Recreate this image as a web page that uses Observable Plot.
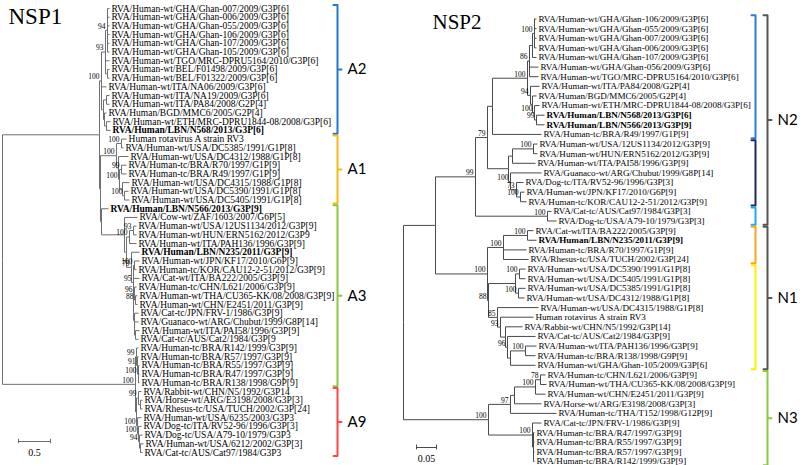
<!DOCTYPE html>
<html><head><meta charset="utf-8">
<script src="https://cdn.jsdelivr.net/npm/d3@7"></script>
<script src="https://cdn.jsdelivr.net/npm/@observablehq/plot@0.6"></script>
<style>
body{margin:0;background:#fff;}
#wrap{position:relative;width:800px;height:465px;overflow:hidden;background:#fff;}
#left,#right{position:absolute;top:0;width:400px;height:465px;}
#left{left:0}#right{left:400px}
</style></head><body><div id="wrap"><div id="left"></div><div id="right"></div></div>
<script>
// ---------------- NSP1 data ----------------
const nsp1Labels = [
"RVA/Human-wt/GHA/Ghan-007/2009/G3P[6]","RVA/Human-wt/GHA/Ghan-006/2009/G3P[6]","RVA/Human-wt/GHA/Ghan-055/2009/G3P[6]",
"RVA/Human-wt/GHA/Ghan-106/2009/G3P[6]","RVA/Human-wt/GHA/Ghan-107/2009/G3P[6]","RVA/Human-wt/GHA/Ghan-105/2009/G3P[6]",
"RVA/Human-wt/TGO/MRC-DPRU5164/2010/G3P[6]","RVA/Human-wt/BEL/F01498/2009/G3P[6]","RVA/Human-wt/BEL/F01322/2009/G3P[6]",
"RVA/Human-wt/ITA/NA06/2009/G3P[6]","RVA/Human-wt/ITA/NA19/2009/G3P[6]","RVA/Human-wt/ITA/PA84/2008/G2P[4]",
"RVA/Human/BGD/MMC6/2005/G2P[4]","RVA/Human-wt/ETH/MRC-DPRU1844-08/2008/G3P[6]","RVA/Human/LBN/N568/2013/G3P[6]",
"Human rotavirus A strain RV3","RVA/Human-wt/USA/DC5385/1991/G1P[8]","RVA/Human-wt/USA/DC4312/1988/G1P[8]",
"RVA/Human-tc/BRA/R70/1997/G1P[9]","RVA/Human-tc/BRA/R49/1997/G1P[9]","RVA/Human-wt/USA/DC4315/1988/G1P[8]",
"RVA/Human-wt/USA/DC5390/1991/G1P[8]","RVA/Human-wt/USA/DC5405/1991/G1P[8]","RVA/Human/LBN/N566/2013/G3P[9]",
"RVA/Cow-wt/ZAF/1603/2007/G6P[5]","RVA/Human-wt/USA/12US1134/2012/G3P[9]","RVA/Human-wt/HUN/ERN5162/2012/G3P9",
"RVA/Human-wt/ITA/PAH136/1996/G3P[9]","RVA/Human/LBN/N235/2011/G3P[9]","RVA/Human-wt/JPN/KF17/2010/G6P[9]",
"RVA/Human-tc/KOR/CAU12-2-51/2012/G3P[9]","RVA/Cat-wt/ITA/BA222/2005/G3P[9]","RVA/Human-tc/CHN/L621/2006/G3P[9]",
"RVA/Human-wt/THA/CU365-KK/08/2008/G3P[9]","RVA/Human-wt/CHN/E2451/2011/G3P[9]","RVA/Cat-tc/JPN/FRV-1/1986/G3P[9]",
"RVA/Guanaco-wt/ARG/Chubut/1999/G8P[14]","RVA/Human-wt/ITA/PAI58/1996/G3P[9]","RVA/Cat-tc/AUS/Cat2/1984/G3P[9",
"RVA/Human-tc/BRA/R142/1999/G3P[9]","RVA/Human-tc/BRA/R57/1997/G3P[9]","RVA/Human-tc/BRA/R55/1997/G3P[9]",
"RVA/Human-tc/BRA/R47/1997/G3P[9]","RVA/Human-tc/BRA/R138/1998/G9P[9]","RVA/Rabbit-wt/CHN/N5/1992/G3P14",
"RVA/Horse-wt/ARG/E3198/2008/G3P[3]","RVA/Rhesus-tc/USA/TUCH/2002/G3P[24]","RVA/Human-wt/USA/6235/2003/G3P3",
"RVA/Dog-tc/ITA/RV52-96/1996/G3P[3]","RVA/Dog-tc/USA/A79-10/1979/G3P3","RVA/Human-wt/USA/6212/2002/G3P[3]",
"RVA/Cat-tc/AUS/Cat97/1984/G3P3"];
const nsp1TipParent = ["g0","g0","g0","g0","g0","g0","g1","bel","bel","a2","g3","g3","g4","g5","g5",
"a1a","a1a","a1b","a1d","a1d","a1e","a1f","a1f","m2","a3","c2","c2","c1","a3b","a3d","a3d","a3e","a3f","a3g","a3g",
"a3h","a3i","a3j","a3j","r0","r1","r2","r2","r2","b1","b1a","b1a","b2","b3","b4","b5","b5"];
const nsp1TipDepth = [1.672,1.672,1.672,1.672,1.672,1.672,1.672,1.672,1.672,1.625,1.672,1.672,1.625,1.688,1.688,
1.938,1.891,1.969,1.938,1.938,1.984,1.969,1.984,1.656,2.109,2.094,2.094,2.094,2.141,2.141,2.094,2.141,2.094,2.109,2.109,
2.125,2.125,2.141,2.125,2.125,2.125,2.141,2.141,2.141,2.172,2.188,2.188,2.172,2.172,2.188,2.203,2.188];
// [id, parent, distance from root, bootstrap]
const nsp1Nodes = [
["root",null,0,null],["top","root",1.516,null],["a2","top",1.547,100],["g1","a2",1.609,93],["g0","g1",1.641,94],
["bel","g1",1.641,null],["g2","a2",1.578,null],["g3","g2",1.625,null],["g4","g2",1.594,null],["g5","g4",1.625,null],
["m1","top",1.531,null],["a1","m1",1.781,100],["a1a","a1",1.859,100],["a1b","a1",1.813,null],["a1c","a1b",1.828,100],
["a1d","a1c",1.859,99],["a1e","a1c",1.875,null],["a1f","a1e",1.906,100],["m2","m1",1.547,null],["a3","m2",1.906,null],
["a3a","a3",1.938,null],["c1","a3a",1.984,100],["c2","c1",2.047,93],["a3b","a3a",2.016,79],["a3c","a3b",2.047,95],
["a3d","a3c",2.063,100],["a3e","a3c",2.047,null],["a3f","a3e",2.063,96],["a3g","a3f",2.078,88],["a3h","a3e",2.063,null],
["a3i","a3h",2.063,null],["a3j","a3i",2.078,null],
["X","root",2.078,100],["r0","X",2.094,99],["r1","r0",2.109,91],["r2","r1",2.125,100],
["a9","X",2.094,null],["b1","a9",2.125,99],["b1a","b1",2.156,null],["b2","a9",2.109,100],
["b3","b2",2.125,100],["b4","b3",2.141,94],["b5","b4",2.156,null]];
const nsp1Bold = [15,24,29];
const nsp1Underlined = [25,32,36,37,39,45,46,47,49,50,52];
const nsp1Clades = [["A2",1,15],["A1",16,23],["A3",24,44],["A9",45,52]];
const nsp1CladeColors = ["#1f78d2","#f9b914","#8dc73f","#ff4545"];
const nsp1Scale = 0.5;

// ---------------- NSP2 data ----------------
const nsp2Labels = [
"RVA/Human-wt/GHA/Ghan-106/2009/G3P[6]","RVA/Human-wt/GHA/Ghan-055/2009/G3P[6]","RVA/Human-wt/GHA/Ghan-007/2009/G3P[6]",
"RVA/Human-wt/GHA/Ghan-006/2009/G3P[6]","RVA/Human-wt/GHA/Ghan-107/2009/G3P[6]","RVA/Human-wt/GHA/Ghan-056/2009/G3P[6]",
"RVA/Human-wt/TGO/MRC-DPRU5164/2010/G3P[6]","RVA/Human-wt/ITA/PA84/2008/G2P[4]","RVA/Human/BGD/MMC6/2005/G2P[4]",
"RVA/Human-wt/ETH/MRC-DPRU1844-08/2008/G3P[6]","RVA/Human/LBN/N568/2013/G3P[6]","RVA/Human/LBN/N566/2013/G3P[9]",
"RVA/Human-tc/BRA/R49/1997/G1P[9]","RVA/Human-wt/USA/12US1134/2012/G3P[9]","RVA/Human-wt/HUN/ERN5162/2012/G3P[9]",
"RVA/Human-wt/ITA/PAI58/1996/G3P[9]","RVA/Guanaco-wt/ARG/Chubut/1999/G8P[14]","RVA/Dog-tc/ITA/RV52-96/1996/G3P[3]",
"RVA/Human-wt/JPN/KF17/2010/G6P[9]","RVA/Human-tc/KOR/CAU12-2-51/2012/G3P[9]","RVA/Cat-tc/AUS/Cat97/1984/G3P[3]",
"RVA/Dog-tc/USA/A79-10/1979/G3P[3]","RVA/Cat-wt/ITA/BA222/2005/G3P[9]","RVA/Human/LBN/N235/2011/G3P[9]",
"RVA/Human-tc/BRA/R70/1997/G1P[9]","RVA/Rhesus-tc/USA/TUCH/2002/G3P[24]","RVA/Human-wt/USA/DC5390/1991/G1P[8]",
"RVA/Human-wt/USA/DC5405/1991/G1P[8]","RVA/Human-wt/USA/DC5385/1991/G1P[8]","RVA/Human-wt/USA/DC4312/1988/G1P[8]",
"RVA/Human-wt/USA/DC4315/1988/G1P[8]","Human rotavirus A strain RV3","RVA/Rabbit-wt/CHN/N5/1992/G3P[14]",
"RVA/Cat-tc/AUS/Cat2/1984/G3P[9]","RVA/Human-wt/ITA/PAH136/1996/G3P[9]","RVA/Human-tc/BRA/R138/1998/G9P[9]",
"RVA/Human-wt/GHA/Ghan-105/2009/G3P[6]","RVA/Human-tc/CHN/L621/2006/G3P[9]","RVA/Human-wt/THA/CU365-KK/08/2008/G3P[9]",
"RVA/Human-wt/CHN/E2451/2011/G3P[9]","RVA/Horse-wt/ARG/E3198/2008/G3P[3]","RVA/Human-tc/THA/T152/1998/G12P[9]",
"RVA/Cat-tc/JPN/FRV-1/1986/G3P[9]","RVA/Human-tc/BRA/R47/1997/G3P[9]","RVA/Human-tc/BRA/R55/1997/G3P[9]",
"RVA/Human-tc/BRA/R57/1997/G3P[9]","RVA/Human-tc/BRA/R142/1999/G3P[9]"];
const nsp2TipParent = ["H","H","H","H","H2","G1","G1","G2","G3","G4","G5","G5","P","Q1a","Q1a","Q1","Q2","Q3","Q4","Q4",
"Cy","Cy","O1","O1","O","O","Y1a","Y1a","Y1b","Y1b","Y2","Y3","Y4","Y5","Y7","Y7","Y6","N3d","N3d","N3c","N3b","N3a",
"BRA","BRA1","BRA1","BRA1","BRA1"];
const nsp2TipDepth = [0.3325,0.3325,0.3325,0.3325,0.3325,0.3375,0.3375,0.340,0.3325,0.340,0.3525,0.3525,0.345,0.335,0.335,
0.330,0.345,0.300,0.3025,0.3075,0.370,0.3825,0.325,0.3325,0.3075,0.3125,0.305,0.305,0.305,0.3025,0.3375,0.325,0.2975,
0.330,0.3325,0.330,0.330,0.355,0.3575,0.355,0.345,0.3825,0.345,0.3275,0.3275,0.3275,0.3275];
const nsp2Nodes = [
["root",null,0,null],["U","root",0.080,null],["A","U",0.180,99],["A1","A",0.210,79],["P","A1",0.2225,null],
["G","P",0.310,100],["G1","G",0.315,86],["H2","G1",0.3225,null],["H","H2",0.3275,100],["G2","G",0.3175,94],
["G3","G2",0.3225,null],["G4","G3",0.3275,100],["G5","G4",0.3325,99],["Q","A1",0.2625,null],["Q1","Q",0.2725,null],
["Q1a","Q1",0.325,100],["Q2","Q",0.2675,100],["Q3","Q2",0.2825,73],["Q4","Q3",0.2925,100],["Cy","A",0.360,100],
["B","U",0.210,100],["O","B",0.250,100],["O1","O",0.310,100],["Y","B",0.2125,88],["Y1","Y",0.280,null],
["Y1a","Y1",0.290,100],["Y1b","Y1",0.2875,100],["Y2","Y",0.235,85],["Y3","Y2",0.2425,93],["Y4","Y3",0.255,null],
["Y5","Y4",0.260,96],["Y6","Y5",0.2675,null],["Y7","Y6",0.305,100],["N3","root",0.2125,100],["N3a","N3",0.2675,97],
["N3b","N3a",0.2775,null],["N3c","N3b",0.330,100],["N3d","N3c",0.3425,78],["BRA","N3",0.3225,100],["BRA1","BRA",0.325,null]];
const nsp2Bold = [11,12,24];
const nsp2Underlined = [17,18,21,22,23,26,33,34,41,43];
const nsp2SubClades = [[1,13],[14,20],[21,22],[23,26],[27,37]];
const nsp2SubColors = ["#2a7fd4","#1c2b5e","#22aae8","#f6a623","#fff200"];
const nsp2Clades = [["N2",1,22],["N1",23,37],["N3",38,47]];
const nsp2CladeColors = ["#555555","#555555","#8dc73f"];
const nsp2Scale = 0.05;

// ---------------- helpers ----------------
const SERIF = "'Liberation Serif','Times New Roman',serif";
const SANS = "Lato,'Open Sans',sans-serif";

function layout(labels, tipParent, tipDepth, nodes) {
  const all = new Map();
  for (const [id, parent, depth, support] of nodes) all.set(id, {id, parent, depth, support, row: null});
  labels.forEach((label, i) => all.set("tip" + i, {id: "tip" + i, parent: tipParent[i], depth: tipDepth[i], row: i + 1, label}));
  const kids = new Map();
  for (const n of all.values()) if (n.parent != null) {
    if (!kids.has(n.parent)) kids.set(n.parent, []);
    kids.get(n.parent).push(n);
  }
  const rowOf = n => {
    if (n.row != null) return n.row;
    const rs = kids.get(n.id).map(rowOf);
    return (n.row = (Math.min(...rs) + Math.max(...rs)) / 2);
  };
  const root = [...all.values()].find(n => n.parent == null);
  rowOf(root);
  const edges = [...all.values()].filter(n => n.parent != null).map(n => {
    const p = all.get(n.parent); return {x1: p.depth, y1: p.row, x2: n.depth, y2: n.row};
  });
  const inner = nodes.map(([id]) => all.get(id)).filter(n => n.support != null);
  const tips = labels.map((label, i) => all.get("tip" + i));
  return {edges, inner, tips};
}

function bracketPts(name, r1, r2, color, bx, hook, mid) {
  const pts = [];
  const ym = (r1 + r2) / 2;
  pts.push({name, color, x: bx - hook, y: r1}, {name, color, x: bx, y: r1});
  if (mid) pts.push({name, color, x: bx, y: ym}, {name, color, x: bx + hook, y: ym}, {name, color, x: bx, y: ym});
  pts.push({name, color, x: bx, y: r2}, {name, color, x: bx - hook, y: r2});
  return pts;
}

function drawTree(el, o) {
  const {edges, inner, tips} = layout(o.labels, o.tipParent, o.tipDepth, o.nodes);
  const px2x = px => o.xd[0] + (px - o.xr[0]) * (o.xd[1] - o.xd[0]) / (o.xr[1] - o.xr[0]);
  const px2y = py => o.yd[0] + (py - o.yr[0]) * (o.yd[1] - o.yd[0]) / (o.yr[1] - o.yr[0]);
  const hookX = px2x(o.xr[0] + 4) - px2x(o.xr[0]);
  const isBold = t => o.bold.includes(t.row), isUnd = t => o.underlined.includes(t.row);
  const normal = tips.filter(t => !isBold(t) && !isUnd(t));
  const bold = tips.filter(isBold), und = tips.filter(isUnd);
  const tipText = {x: "depth", y: "row", text: "label", textAnchor: "start", dx: 2, fontFamily: SERIF, fontSize: o.fs, fill: "#000"};
  const br = [];
  (o.sub || []).forEach(([a, b], i) => br.push(...bracketPts("s" + i, a - 0.4, b + 0.4, o.subColors[i], px2x(o.subPx), hookX, false)));
  o.clades.forEach(([n, a, b], i) => br.push(...bracketPts(n, a - 0.4, b + 0.4, o.cladeColors[i], px2x(o.cladePx), hookX, true)));
  const cladeLab = o.clades.map(([n, a, b]) => ({n, x: px2x(o.cladePx + 10), y: (a + b) / 2}));
  const bar = [{x1: px2x(o.bar[0]), x2: px2x(o.bar[0]) + o.scaleLen, y: px2y(o.bar[1]), t: String(o.scaleLen)}];
  const chart = Plot.plot({
    width: 400, height: 465, margin: 0,
    style: {background: "transparent", overflow: "visible"},
    x: {domain: o.xd, range: o.xr, axis: null},
    y: {domain: o.yd, range: o.yr, axis: null},
    marks: [
      Plot.link(edges, {x1: "x1", y1: "y1", x2: "x2", y2: "y2", curve: "step-before", stroke: o.lineColor, strokeWidth: 1}),
      Plot.text(normal, tipText),
      Plot.text(bold, {...tipText, fontWeight: "bold"}),
      Plot.text(und, {...tipText, ariaLabel: "underlined-tips"}),
      Plot.text(inner, {x: "depth", y: "row", text: d => String(d.support), textAnchor: "end", dx: -2, dy: -4, fontFamily: SERIF, fontSize: o.sfs, fill: "#000"}),
      Plot.line(br, {x: "x", y: "y", z: "name", stroke: "color", strokeWidth: o.bw, curve: "linear"}),
      Plot.text(cladeLab, {x: "x", y: "y", text: "n", textAnchor: "start", fontFamily: SANS, fontSize: 15, fill: "#000"}),
      Plot.link(bar, {x1: "x1", x2: "x2", y1: "y", y2: "y", stroke: o.lineColor, strokeWidth: 1}),
      Plot.ruleX(bar, {x: "x1", y1: d => d.y - 0.25, y2: d => d.y + 0.25, stroke: o.lineColor}),
      Plot.ruleX(bar, {x: "x2", y1: d => d.y - 0.25, y2: d => d.y + 0.25, stroke: o.lineColor}),
      Plot.text(bar, {x: d => (d.x1 + d.x2) / 2, y: "y", text: "t", dy: 11, fontFamily: SERIF, fontSize: 10, fill: "#000"}),
      Plot.text([o.title], {frameAnchor: "top-left", dx: o.titlePos[0], dy: o.titlePos[1], lineAnchor: "top", textAnchor: "start", fontFamily: SERIF, fontSize: o.titleSize, fill: "#000"})
    ]
  });
  chart.querySelectorAll('g[aria-label="underlined-tips"] text').forEach(t => t.style.textDecoration = "underline");
  el.appendChild(chart);
}

drawTree(document.getElementById("left"), {
  labels: nsp1Labels, tipParent: nsp1TipParent, tipDepth: nsp1TipDepth, nodes: nsp1Nodes,
  bold: nsp1Bold, underlined: nsp1Underlined, clades: nsp1Clades, cladeColors: nsp1CladeColors,
  xd: [0, 1], xr: [2, 66], yd: [1, 52], yr: [8, 452], fs: 9.5, sfs: 7.5, lineColor: "#6e6e6e",
  cladePx: 337, bw: 2, bar: [18, 441], scaleLen: nsp1Scale, title: "NSP1", titlePos: [8, 7], titleSize: 23
});
drawTree(document.getElementById("right"), {
  labels: nsp2Labels, tipParent: nsp2TipParent, tipDepth: nsp2TipDepth, nodes: nsp2Nodes,
  bold: nsp2Bold, underlined: nsp2Underlined, clades: nsp2Clades, cladeColors: nsp2CladeColors,
  sub: nsp2SubClades, subColors: nsp2SubColors, subPx: 355,
  xd: [0, 0.05], xr: [3, 23], yd: [1, 47], yr: [18.5, 461], fs: 9.1, sfs: 7.5, lineColor: "#4a4a4a",
  cladePx: 367, bw: 2, bar: [16, 447], scaleLen: nsp2Scale, title: "NSP2", titlePos: [32, 14], titleSize: 21
});
</script></body></html>
